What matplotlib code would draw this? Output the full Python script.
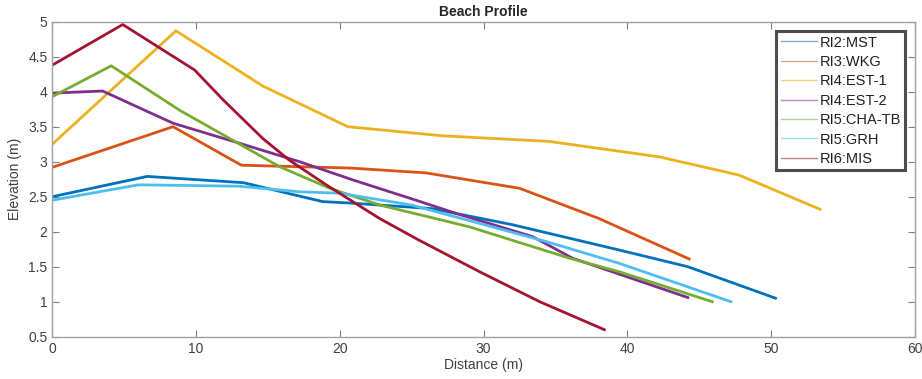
import matplotlib
matplotlib.use("Agg")
import matplotlib.pyplot as plt
from matplotlib.lines import Line2D

labels = ["RI2:MST", "RI3:WKG", "RI4:EST-1", "RI4:EST-2", "RI5:CHA-TB", "RI5:GRH", "RI6:MIS"]
colors = ["#0072BD", "#D95319", "#EDB120", "#7E2F8E", "#77AC30", "#4DBEEE", "#A2142F"]

mst_x = [0, 6.6, 13.3, 18.8, 20.7, 26.4, 32.0, 39.4, 44.2, 50.3]
mst_y = [2.50, 2.79, 2.70, 2.43, 2.41, 2.33, 2.10, 1.74, 1.50, 1.05]

wkg_x = [0, 8.4, 13.15, 20.7, 26.0, 32.5, 38.0, 44.3]
wkg_y = [2.92, 3.50, 2.95, 2.91, 2.84, 2.62, 2.19, 1.61]

est1_x = [0, 8.6, 14.65, 20.56, 27.15, 34.56, 42.2, 47.75, 53.4]
est1_y = [3.25, 4.87, 4.08, 3.50, 3.37, 3.29, 3.07, 2.81, 2.32]

est2_x = [0, 3.5, 8.4, 12.6, 17.2, 20.9, 25.3, 28.1, 33.4, 36.2, 44.2]
est2_y = [3.98, 4.01, 3.55, 3.29, 3.00, 2.74, 2.45, 2.26, 1.93, 1.62, 1.06]

cha_x = [0, 4.1, 8.9, 15.8, 19.3, 22.8, 29.0, 36.0, 39.4, 45.9]
cha_y = [3.93, 4.37, 3.73, 2.93, 2.62, 2.38, 2.07, 1.62, 1.43, 1.00]

grh_x = [0, 6.0, 13.0, 17.2, 20.0, 25.0, 29.7, 34.5, 39.4, 47.2]
grh_y = [2.45, 2.67, 2.65, 2.57, 2.55, 2.38, 2.12, 1.85, 1.55, 1.00]

mis_x = [0, 4.9, 9.9, 11.9, 14.65, 16.5, 19.05, 22.75, 25.5, 29.7, 33.9, 38.4]
mis_y = [4.38, 4.96, 4.31, 3.88, 3.33, 3.02, 2.67, 2.19, 1.88, 1.43, 1.00, 0.60]

series_x = [mst_x, wkg_x, est1_x, est2_x, cha_x, grh_x, mis_x]
series_y = [mst_y, wkg_y, est1_y, est2_y, cha_y, grh_y, mis_y]

x_ticks = [0, 10, 20, 30, 40, 50, 60]
y_ticks = [0.5, 1, 1.5, 2, 2.5, 3, 3.5, 4, 4.5, 5]
y_tick_labels = ["0.5", "1", "1.5", "2", "2.5", "3", "3.5", "4", "4.5", "5"]

plt.rcParams['font.family'] = ['Liberation Sans', 'DejaVu Sans']

fig = plt.figure(figsize=(9.22, 3.79), dpi=100)
ax = fig.add_axes([0.0567, 0.1116, 0.9357, 0.8311])

for xs, ys, c, lab in zip(series_x, series_y, colors, labels):
    ax.plot(xs, ys, color=c, lw=2.0, label=lab)

ax.set_xlim(0, 60)
ax.set_ylim(0.5, 5)
ax.set_xticks(x_ticks)
ax.set_yticks(y_ticks)
ax.set_yticklabels(y_tick_labels)
ax.tick_params(direction='in', top=True, right=True, length=5, width=0.8,
               colors='#808080', labelcolor='#404040', labelsize=10)
for s in ax.spines.values():
    s.set_color('#A0A0A0')
    s.set_linewidth(1.0)

ax.set_xlabel("Distance (m)", fontsize=10, color='#404040', labelpad=2)
ax.set_ylabel("Elevation (m)", fontsize=10, color='#404040', labelpad=4)
ax.set_title("Beach Profile", fontsize=10, fontweight='bold', color='#262626', pad=4)

handles = [Line2D([0], [0], color=c, lw=1.0, alpha=0.55) for c in colors]
leg = ax.legend(handles, labels, loc='upper right', bbox_to_anchor=(0.9885, 0.97),
                fontsize=10.5, frameon=True, fancybox=False, handlelength=2.5,
                handletextpad=0.15, labelspacing=0.37, borderpad=0.3, borderaxespad=0)
leg.get_frame().set_edgecolor('#202020')
leg.get_frame().set_linewidth(2.2)
for t in leg.get_texts():
    t.set_color('#202020')

fig.savefig("out.png", dpi=100)
